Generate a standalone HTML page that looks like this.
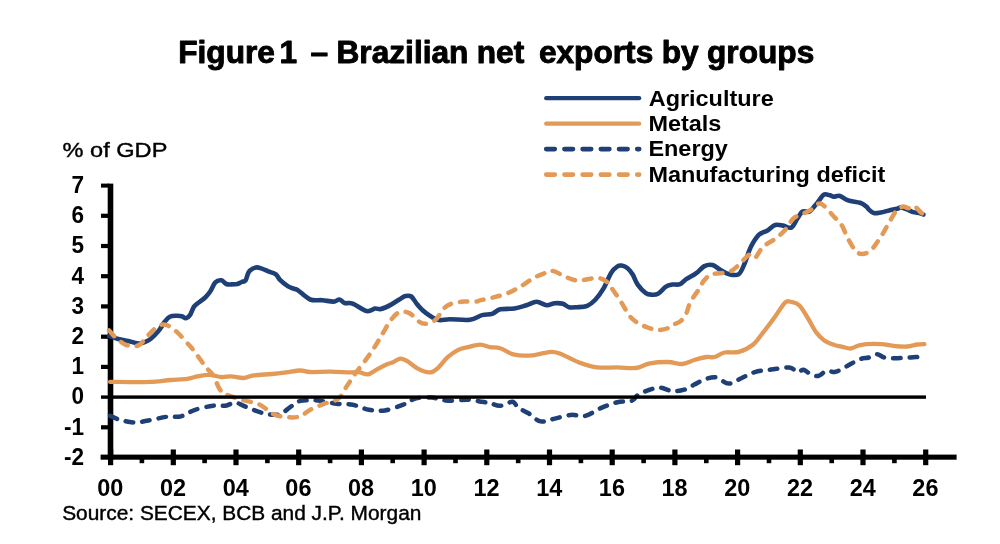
<!DOCTYPE html>
<html><head><meta charset="utf-8"><title>Figure 1</title>
<style>html,body{margin:0;padding:0;background:#fff}body{width:1000px;height:544px;position:relative;overflow:hidden}</style>
</head><body>
<svg width="1000" height="544" viewBox="0 0 1000 544" style="position:absolute;left:0;top:0">
<g fill="#000">
<rect x="107.7" y="183.6" width="5.6" height="276"/>
<rect x="100.6" y="454.6" width="856" height="5.1"/>
<rect x="101" y="425.2" width="8" height="4.2"/>
<rect x="101" y="364.8" width="8" height="4.2"/>
<rect x="101" y="334.6" width="8" height="4.2"/>
<rect x="101" y="304.3" width="8" height="4.2"/>
<rect x="101" y="274.1" width="8" height="4.2"/>
<rect x="101" y="243.9" width="8" height="4.2"/>
<rect x="101" y="213.7" width="8" height="4.2"/>
<rect x="101" y="183.6" width="8" height="4"/>
<rect x="108.0" y="449.5" width="5.2" height="15.7"/>
<rect x="139.6" y="457" width="4.6" height="6.2"/>
<rect x="170.7" y="449.5" width="5.2" height="15.7"/>
<rect x="202.3" y="457" width="4.6" height="6.2"/>
<rect x="233.4" y="449.5" width="5.2" height="15.7"/>
<rect x="265.1" y="457" width="4.6" height="6.2"/>
<rect x="296.1" y="449.5" width="5.2" height="15.7"/>
<rect x="327.8" y="457" width="4.6" height="6.2"/>
<rect x="358.8" y="449.5" width="5.2" height="15.7"/>
<rect x="390.4" y="457" width="4.6" height="6.2"/>
<rect x="421.5" y="449.5" width="5.2" height="15.7"/>
<rect x="453.2" y="457" width="4.6" height="6.2"/>
<rect x="484.2" y="449.5" width="5.2" height="15.7"/>
<rect x="515.9" y="457" width="4.6" height="6.2"/>
<rect x="546.9" y="449.5" width="5.2" height="15.7"/>
<rect x="578.6" y="457" width="4.6" height="6.2"/>
<rect x="609.6" y="449.5" width="5.2" height="15.7"/>
<rect x="641.3" y="457" width="4.6" height="6.2"/>
<rect x="672.3" y="449.5" width="5.2" height="15.7"/>
<rect x="704.0" y="457" width="4.6" height="6.2"/>
<rect x="735.0" y="449.5" width="5.2" height="15.7"/>
<rect x="766.7" y="457" width="4.6" height="6.2"/>
<rect x="797.7" y="449.5" width="5.2" height="15.7"/>
<rect x="829.4" y="457" width="4.6" height="6.2"/>
<rect x="860.4" y="449.5" width="5.2" height="15.7"/>
<rect x="892.1" y="457" width="4.6" height="6.2"/>
<rect x="923.1" y="449.5" width="5.2" height="15.7"/>
</g>
<g fill="none" stroke-linejoin="round" stroke-linecap="round">
<path d="M109.1,335.9 C110.6,336.4 115.0,338.1 118.2,339.0 C121.4,339.9 125.1,340.3 128.3,341.0 C131.5,341.7 134.9,343.1 137.4,343.4 C139.9,343.7 141.3,343.3 143.5,342.6 C145.7,341.9 148.1,340.9 150.6,339.0 C153.1,337.1 156.2,333.8 158.6,330.9 C160.9,328.0 162.8,324.2 164.7,321.8 C166.6,319.4 167.8,317.7 169.8,316.7 C171.8,315.7 174.8,315.8 176.8,315.7 C178.8,315.6 180.4,315.9 181.9,316.3 C183.4,316.7 184.7,318.5 186.0,318.3 C187.3,318.1 188.7,317.1 190.0,315.1 C191.3,313.2 192.5,308.8 194.0,306.6 C195.5,304.5 197.2,303.7 199.1,302.2 C201.0,300.7 203.3,299.3 205.2,297.5 C207.0,295.7 208.5,294.0 210.2,291.5 C211.9,289.0 213.5,284.3 215.3,282.4 C217.2,280.5 219.5,280.0 221.3,280.3 C223.2,280.6 224.7,283.3 226.4,284.0 C228.1,284.7 229.6,284.4 231.4,284.4 C233.2,284.4 235.8,284.4 237.5,284.0 C239.2,283.6 240.2,282.6 241.6,282.0 C242.9,281.4 244.4,281.9 245.6,280.3 C246.8,278.7 247.4,274.1 248.6,272.2 C249.8,270.2 251.3,269.4 252.7,268.6 C254.0,267.8 255.2,267.4 256.7,267.4 C258.2,267.4 259.9,268.0 261.8,268.6 C263.7,269.2 265.5,270.2 267.8,271.2 C270.1,272.1 273.9,272.9 275.9,274.3 C277.9,275.8 278.0,277.9 280.0,279.9 C282.0,281.9 285.8,284.9 288.1,286.4 C290.5,287.9 292.4,288.1 294.1,288.8 C295.8,289.5 295.4,288.6 298.1,290.4 C300.8,292.2 306.1,297.9 310.2,299.5 C314.2,301.1 318.5,299.8 322.4,300.2 C326.3,300.6 330.6,301.7 333.5,301.6 C336.4,301.5 337.6,299.3 339.5,299.5 C341.4,299.7 342.4,302.3 344.6,303.0 C346.8,303.7 349.0,302.2 352.7,303.6 C356.4,305.0 363.1,310.3 366.8,311.1 C370.5,311.9 372.5,309.0 374.9,308.6 C377.3,308.2 378.3,309.7 381.0,309.0 C383.7,308.3 387.9,306.3 391.1,304.6 C394.3,302.9 397.8,300.3 400.2,298.9 C402.6,297.5 403.4,296.5 405.3,296.1 C407.2,295.7 409.3,295.1 411.3,296.5 C413.3,297.9 415.0,301.9 417.4,304.6 C419.8,307.3 422.1,310.2 425.5,312.7 C428.9,315.2 433.6,318.7 437.6,319.8 C441.7,320.9 444.4,319.2 449.8,319.2 C455.2,319.2 464.6,320.5 470.0,319.8 C475.4,319.1 478.4,316.1 482.1,315.1 C485.8,314.1 489.1,314.9 492.1,313.9 C495.1,312.9 496.5,310.2 500.2,309.3 C503.9,308.4 510.0,309.2 514.4,308.5 C518.8,307.8 522.8,306.3 526.5,305.2 C530.2,304.1 533.2,301.8 536.6,301.8 C540.0,301.8 543.7,305.0 546.7,305.2 C549.7,305.4 552.1,303.4 554.8,303.2 C557.5,303.0 560.5,303.1 562.9,303.8 C565.3,304.5 566.6,306.6 569.0,307.2 C571.4,307.8 574.1,307.4 577.1,307.2 C580.1,307.0 584.2,307.0 587.2,305.8 C590.2,304.6 592.6,302.7 595.3,299.8 C598.0,296.9 600.7,293.2 603.4,288.6 C606.1,284.1 609.0,276.2 611.4,272.5 C613.8,268.8 615.8,267.5 617.5,266.4 C619.2,265.2 619.9,265.3 621.6,265.6 C623.3,265.9 625.8,266.7 627.6,268.2 C629.5,269.7 631.0,271.8 632.7,274.5 C634.4,277.2 635.5,281.5 637.7,284.6 C639.9,287.7 643.4,291.4 645.8,293.1 C648.2,294.8 649.9,294.6 651.9,294.7 C653.9,294.8 655.6,295.0 658.0,293.7 C660.4,292.4 663.6,288.1 666.0,286.6 C668.4,285.1 669.8,285.0 672.1,284.6 C674.4,284.2 677.6,285.1 680.0,284.2 C682.4,283.3 683.5,281.0 686.2,279.2 C688.9,277.4 693.3,275.3 696.3,273.1 C699.3,270.9 701.7,267.5 704.4,266.1 C707.1,264.8 709.8,264.3 712.5,265.0 C715.2,265.7 717.9,268.6 720.6,270.1 C723.3,271.6 725.6,273.4 728.6,274.1 C731.6,274.8 736.1,276.0 738.8,274.1 C741.5,272.2 742.8,267.6 744.8,263.0 C746.8,258.4 748.5,251.5 750.9,246.8 C753.3,242.1 756.3,237.4 759.0,234.7 C761.7,232.0 764.4,232.3 767.1,230.7 C769.8,229.1 772.5,225.8 775.2,225.0 C777.9,224.2 780.5,225.2 783.2,225.6 C785.9,226.0 788.9,228.8 791.3,227.6 C793.7,226.4 795.5,221.2 797.4,218.5 C799.3,215.8 800.5,212.7 802.5,211.5 C804.5,210.3 807.0,213.0 809.5,211.5 C812.0,210.0 815.2,205.2 817.6,202.4 C820.0,199.6 821.7,195.9 823.7,194.7 C825.7,193.5 828.1,195.0 829.8,195.3 C831.5,195.6 832.1,196.6 833.8,196.7 C835.5,196.8 837.5,195.3 839.9,195.9 C842.3,196.5 844.6,199.2 848.0,200.3 C851.4,201.5 857.1,201.8 860.1,202.8 C863.1,203.8 864.8,205.3 866.2,206.4 C867.7,207.5 867.5,208.3 868.8,209.4 C870.1,210.5 871.8,212.6 873.8,213.1 C875.8,213.6 878.4,212.9 880.9,212.5 C883.4,212.1 886.3,211.0 889.0,210.4 C891.7,209.8 895.1,209.3 897.1,208.8 C899.1,208.3 899.4,207.3 901.1,207.4 C902.8,207.5 905.2,208.6 907.2,209.4 C909.2,210.2 911.2,211.5 913.2,212.1 C915.2,212.7 917.6,212.5 919.3,212.9 C921.0,213.3 922.7,214.2 923.4,214.5" stroke="#1f3f77" stroke-width="4.6"/>
<path d="M110.1,381.9 C113.5,381.9 123.6,382.1 130.3,382.1 C137.1,382.1 143.8,382.2 150.6,381.9 C157.3,381.5 164.7,380.5 170.8,380.0 C176.9,379.5 182.6,379.4 187.0,378.8 C191.4,378.2 193.4,377.1 197.1,376.4 C200.8,375.7 205.2,374.7 209.2,374.8 C213.2,374.9 217.6,376.7 221.3,377.0 C225.0,377.3 227.7,376.2 231.4,376.4 C235.1,376.6 239.9,378.2 243.6,378.0 C247.3,377.8 249.0,376.1 253.7,375.4 C258.4,374.7 266.5,374.5 271.9,374.0 C277.3,373.5 281.3,373.0 286.0,372.4 C290.7,371.8 296.1,370.6 300.1,370.5 C304.1,370.4 305.1,371.8 310.2,372.0 C315.2,372.2 323.6,371.6 330.4,371.7 C337.1,371.8 346.0,372.3 350.7,372.4 C355.4,372.4 355.9,371.7 358.8,372.0 C361.7,372.3 364.9,374.8 367.9,374.4 C370.9,373.9 373.8,371.0 377.0,369.3 C380.2,367.6 384.4,365.5 387.1,364.3 C389.8,363.1 390.9,363.1 393.1,362.2 C395.3,361.2 397.8,358.8 400.2,358.6 C402.6,358.4 404.4,359.6 407.3,361.2 C410.2,362.8 413.7,366.4 417.4,368.3 C421.1,370.2 426.1,372.4 429.5,372.4 C432.9,372.4 434.6,370.8 437.6,368.3 C440.6,365.8 444.3,360.2 447.7,357.2 C451.1,354.2 454.4,351.8 457.8,350.1 C461.2,348.4 464.3,348.0 468.0,347.1 C471.7,346.2 476.4,344.6 480.1,344.6 C483.8,344.6 486.8,346.6 490.1,347.2 C493.5,347.8 496.1,346.9 500.2,348.2 C504.2,349.4 509.0,353.5 514.4,354.7 C519.8,355.9 526.5,355.8 532.6,355.3 C538.7,354.8 546.1,352.0 550.8,351.8 C555.5,351.6 556.2,352.1 560.9,353.9 C565.6,355.7 573.0,360.1 579.1,362.4 C585.2,364.6 590.9,366.6 597.3,367.4 C603.7,368.2 611.1,367.3 617.5,367.4 C623.9,367.5 630.3,368.7 635.7,368.0 C641.1,367.3 644.5,364.4 649.9,363.4 C655.3,362.4 662.7,361.9 668.1,362.0 C673.5,362.1 677.7,364.3 682.1,364.0 C686.5,363.7 690.2,361.2 694.3,360.0 C698.3,358.8 703.0,357.5 706.4,357.0 C709.8,356.5 711.5,357.8 714.5,357.0 C717.5,356.2 720.6,353.4 724.6,352.5 C728.6,351.6 734.1,353.2 738.8,351.9 C743.5,350.6 748.9,348.0 752.9,344.8 C756.9,341.6 759.3,337.4 763.0,332.7 C766.7,328.0 771.5,321.6 775.2,316.5 C778.9,311.4 782.6,304.8 785.3,302.4 C788.0,300.0 788.9,301.5 791.3,302.0 C793.6,302.5 796.6,302.6 799.4,305.4 C802.2,308.1 805.3,314.0 808.1,318.5 C810.9,323.0 813.5,328.8 816.2,332.4 C818.9,336.0 821.3,338.3 824.3,340.4 C827.3,342.5 831.4,343.8 834.4,344.9 C837.4,346.0 839.8,346.3 842.5,346.9 C845.2,347.5 847.9,348.7 850.6,348.5 C853.3,348.3 855.9,346.2 858.6,345.5 C861.3,344.8 863.0,344.3 866.7,344.1 C870.4,343.9 876.2,343.8 880.9,344.1 C885.6,344.4 890.6,345.7 895.0,346.1 C899.4,346.5 903.5,346.8 907.2,346.5 C910.9,346.2 914.4,344.9 917.3,344.5 C920.2,344.1 923.2,344.2 924.4,344.1" stroke="#e39a57" stroke-width="4.3"/>
<path d="M110.1,415.8 C111.8,416.5 116.2,418.8 120.2,419.9 C124.2,421.0 129.7,422.4 134.4,422.5 C139.1,422.6 143.1,421.4 148.5,420.5 C153.9,419.6 161.3,417.5 166.7,416.8 C172.1,416.1 176.2,417.6 180.9,416.4 C185.6,415.2 189.6,411.6 195.0,409.8 C200.4,408.0 208.1,406.4 213.2,405.7 C218.3,405.0 221.7,406.2 225.4,405.7 C229.1,405.2 232.1,402.5 235.5,402.7 C238.9,402.9 241.2,405.0 245.6,406.7 C250.0,408.4 257.1,411.4 261.8,412.8 C266.5,414.2 270.5,414.7 273.9,414.8 C277.3,414.9 279.0,414.7 282.0,413.2 C285.0,411.7 289.1,407.8 292.1,405.7 C295.1,403.6 297.1,401.8 300.1,400.9 C303.1,400.0 306.8,400.3 310.2,400.3 C313.6,400.3 315.9,400.1 320.3,400.7 C324.7,401.3 331.1,403.0 336.5,403.7 C341.9,404.4 347.3,403.7 352.7,404.7 C358.1,405.7 363.5,408.9 368.9,409.8 C374.3,410.8 379.3,411.2 385.0,410.4 C390.7,409.5 398.1,406.7 403.2,404.7 C408.3,402.7 410.7,399.8 415.4,398.6 C420.1,397.4 426.2,397.2 431.6,397.6 C437.0,398.0 441.6,400.4 447.7,400.7 C453.8,401.0 462.3,399.5 468.0,399.7 C473.7,399.9 478.4,401.2 482.1,401.8 C485.8,402.4 487.1,402.5 490.1,403.2 C493.1,403.9 496.5,406.0 500.2,405.8 C503.9,405.6 509.4,401.5 512.4,401.8 C515.4,402.1 515.7,406.0 518.4,407.9 C521.1,409.8 524.8,411.1 528.5,413.3 C532.2,415.6 536.3,420.5 540.7,421.4 C545.1,422.3 549.8,419.7 554.8,418.6 C559.8,417.5 565.9,415.3 571.0,414.9 C576.1,414.4 580.2,417.1 585.2,415.9 C590.2,414.7 595.9,410.2 601.3,407.9 C606.7,405.6 612.4,403.4 617.5,402.2 C622.6,401.0 628.3,402.0 631.7,400.8 C635.1,399.6 635.0,396.9 637.7,395.1 C640.4,393.4 644.1,391.6 647.8,390.3 C651.5,389.1 656.0,387.5 660.0,387.6 C664.0,387.7 668.1,390.8 672.1,391.1 C676.1,391.5 680.5,390.8 684.2,389.7 C687.9,388.6 690.9,386.3 694.3,384.6 C697.7,382.9 700.7,380.7 704.4,379.5 C708.1,378.3 712.5,376.8 716.5,377.5 C720.5,378.2 724.6,383.4 728.6,383.6 C732.6,383.8 736.4,380.4 740.8,378.5 C745.2,376.6 749.8,373.6 754.9,372.1 C760.0,370.6 765.4,370.4 771.1,369.6 C776.8,368.9 784.9,367.2 789.3,367.6 C793.7,368.0 795.0,371.6 797.4,372.0 C799.8,372.4 801.4,369.5 803.5,369.8 C805.6,370.1 807.6,372.8 810.1,373.8 C812.6,374.8 815.5,376.5 818.2,376.0 C820.9,375.5 823.6,371.7 826.3,371.0 C829.0,370.3 832.0,372.2 834.4,372.0 C836.8,371.8 837.7,371.2 840.4,369.9 C843.1,368.6 847.2,365.8 850.6,364.0 C854.0,362.2 857.7,360.1 860.7,359.0 C863.7,357.9 866.1,358.3 868.8,357.5 C871.5,356.7 874.1,354.2 876.8,354.2 C879.5,354.2 881.5,356.9 884.9,357.6 C888.3,358.3 893.0,358.2 897.1,358.2 C901.2,358.2 905.8,357.8 909.2,357.6 C912.6,357.4 915.4,356.6 917.3,357.0 C919.1,357.4 919.8,359.2 920.3,359.7" stroke="#1f3f77" stroke-width="4.5" stroke-dasharray="7.6 9"/>
<path d="M109.1,330.5 C110.3,331.8 113.3,335.6 116.2,338.0 C119.1,340.4 122.6,343.8 126.3,345.0 C130.0,346.2 134.7,347.1 138.4,345.4 C142.1,343.7 145.1,338.2 148.5,334.9 C151.9,331.6 155.6,327.4 158.6,325.8 C161.6,324.2 163.7,324.2 166.7,325.2 C169.7,326.2 173.1,328.6 176.8,331.9 C180.5,335.2 186.0,341.6 189.0,345.0 C192.0,348.4 192.3,348.6 195.0,352.1 C197.7,355.7 202.2,362.4 205.2,366.3 C208.2,370.2 210.8,371.7 213.2,375.4 C215.5,379.1 217.3,385.4 219.3,388.5 C221.3,391.6 221.7,392.3 225.4,394.2 C229.1,396.1 235.9,397.9 241.6,399.7 C247.3,401.4 254.4,402.2 259.8,404.7 C265.2,407.1 269.2,412.3 273.9,414.4 C278.6,416.5 283.7,416.9 288.1,417.2 C292.5,417.5 296.4,417.6 300.1,416.4 C303.8,415.2 306.1,411.9 310.2,409.8 C314.2,407.7 319.7,405.6 324.4,403.7 C329.1,401.8 334.8,401.5 338.5,398.6 C342.2,395.7 343.9,390.5 346.6,386.5 C349.3,382.5 351.7,378.6 354.7,374.4 C357.7,370.2 361.4,365.8 364.8,361.2 C368.2,356.6 371.9,351.3 374.9,346.6 C377.9,341.9 380.3,337.4 383.0,332.9 C385.7,328.4 388.4,323.2 391.1,319.8 C393.8,316.4 396.2,313.4 399.2,312.3 C402.2,311.2 405.9,311.5 409.3,313.1 C412.7,314.7 416.7,320.0 419.4,321.8 C422.1,323.6 422.8,324.1 425.5,323.8 C428.2,323.5 432.6,322.3 435.6,319.8 C438.6,317.3 441.0,311.3 443.7,308.6 C446.4,305.9 448.4,304.8 451.8,303.6 C455.2,302.4 459.9,301.9 463.9,301.6 C467.9,301.3 473.3,301.8 476.0,301.6 C478.7,301.4 477.3,301.0 480.0,300.4 C482.7,299.8 487.7,298.8 492.1,297.7 C496.5,296.6 501.6,295.5 506.3,293.7 C511.0,291.9 515.7,289.3 520.4,286.6 C525.1,283.9 530.2,279.9 534.6,277.5 C539.0,275.1 543.5,273.6 546.7,272.5 C549.9,271.4 550.8,270.4 553.8,271.1 C556.8,271.8 561.0,274.9 564.9,276.5 C568.8,278.1 573.0,280.2 577.1,280.6 C581.2,281.0 585.5,279.3 589.2,278.9 C592.9,278.5 596.3,277.6 599.3,278.1 C602.3,278.7 605.0,280.1 607.4,282.2 C609.8,284.3 611.1,287.3 613.5,290.7 C615.9,294.1 618.9,298.6 621.6,302.8 C624.3,307.0 626.9,312.5 629.6,315.9 C632.3,319.3 634.7,321.1 637.7,323.0 C640.7,324.9 644.4,326.3 647.8,327.5 C651.2,328.7 654.6,330.0 658.0,330.1 C661.4,330.2 665.7,329.0 668.0,328.1 C670.3,327.2 670.0,326.1 672.0,325.0 C674.0,323.9 677.7,323.5 680.1,321.6 C682.5,319.7 684.5,316.7 686.2,313.5 C687.9,310.3 688.2,306.3 690.2,302.4 C692.2,298.5 695.9,293.9 698.3,290.2 C700.7,286.5 702.0,282.8 704.4,280.1 C706.8,277.4 708.5,275.4 712.5,274.1 C716.5,272.8 724.2,273.6 728.6,272.1 C733.0,270.6 735.4,267.9 738.8,265.0 C742.2,262.1 746.2,256.1 748.9,254.9 C751.6,253.7 752.5,259.4 754.9,258.0 C757.2,256.6 759.6,250.0 763.0,246.8 C766.4,243.6 771.5,241.7 775.2,238.8 C778.9,236.0 782.3,233.1 785.3,229.7 C788.3,226.3 790.4,221.2 793.4,218.5 C796.4,215.8 800.5,215.0 803.5,213.5 C806.5,212.0 808.9,211.1 811.6,209.4 C814.3,207.7 817.1,203.7 819.5,203.4 C821.9,203.1 823.3,205.2 825.7,207.4 C828.1,209.6 831.1,213.5 833.8,216.5 C836.5,219.5 839.5,221.9 841.9,225.6 C844.3,229.3 845.8,234.8 848.0,238.8 C850.2,242.9 852.9,247.4 855.0,249.9 C857.1,252.4 858.5,253.5 860.6,253.9 C862.7,254.3 865.4,253.6 867.5,252.6 C869.6,251.6 871.2,249.9 873.0,248.0 C874.8,246.1 876.5,243.2 878.0,241.0 C879.5,238.8 880.7,237.2 882.0,235.0 C883.3,232.8 884.7,230.3 886.0,228.0 C887.3,225.7 888.7,223.3 890.0,221.0 C891.3,218.7 892.8,215.9 894.0,214.0 C895.2,212.1 896.0,210.6 897.5,209.3 C899.0,208.1 901.1,206.7 903.0,206.5 C904.9,206.3 907.2,208.3 909.0,208.2 C910.8,208.1 912.0,205.3 914.0,206.0 C916.0,206.7 919.3,211.0 921.0,212.5 C922.7,214.0 923.7,214.6 924.2,215.0" stroke="#e39a57" stroke-width="4.5" stroke-dasharray="7.6 9"/>
<rect x="101" y="395.4" width="825" height="3.4" fill="#000" stroke="none"/>
<path d="M546.2,98.2 L639.2,98.2" stroke="#1f3f77" stroke-width="4.2"/>
<path d="M546.2,123.7 L639.2,123.7" stroke="#e39a57" stroke-width="4.2"/>
<path d="M546.2,149.1 L639.2,149.1" stroke="#1f3f77" stroke-width="4.6" stroke-dasharray="8.6 9.6"/>
<path d="M546.2,174.6 L639.2,174.6" stroke="#e39a57" stroke-width="4.6" stroke-dasharray="8.6 9.6"/>
</g>
<g style="font-family:&quot;Liberation Sans&quot;,sans-serif" fill="#000">
<text transform="translate(178.20,63) scale(1.0388,1)" font-size="30.5" font-weight="bold" stroke="#000" stroke-width="0.9" stroke-linejoin="round">Figure<tspan dx="-4.09"> 1</tspan><tspan dx="4.38"> –</tspan><tspan dx="-0.39"> Brazilian</tspan><tspan dx="-0.53"> net</tspan><tspan dx="5.68"> exports</tspan><tspan dx="-0.29"> by</tspan><tspan dx="-0.53"> groups</tspan></text>
<text transform="translate(62.60,157.00) scale(1.1500,1)" font-size="20.5" stroke="#000" stroke-width="0.4">% of GDP</text>
<text transform="translate(62.20,520.00) scale(1.0710,1)" font-size="19.5" stroke="#000" stroke-width="0.4">Source: SECEX, BCB and J.P. Morgan</text>
<text transform="translate(648.70,105.50) scale(1.0380,1)" font-size="22.6" font-weight="bold">Agriculture</text>
<text transform="translate(648.40,130.97) scale(1.0380,1)" font-size="22.6" font-weight="bold">Metals</text>
<text transform="translate(648.40,156.44) scale(1.0380,1)" font-size="22.6" font-weight="bold">Energy</text>
<text transform="translate(648.40,181.91) scale(1.0380,1)" font-size="22.6" font-weight="bold">Manufacturing deficit</text>
<text transform="translate(84.00,464.84) scale(0.9900,1.05)" font-size="22.8" font-weight="bold" text-anchor="end">-2</text>
<text transform="translate(84.00,434.62) scale(0.9900,1.05)" font-size="22.8" font-weight="bold" text-anchor="end">-1</text>
<text transform="translate(84.00,404.40) scale(0.9900,1.05)" font-size="22.8" font-weight="bold" text-anchor="end">0</text>
<text transform="translate(84.00,374.18) scale(0.9900,1.05)" font-size="22.8" font-weight="bold" text-anchor="end">1</text>
<text transform="translate(84.00,343.96) scale(0.9900,1.05)" font-size="22.8" font-weight="bold" text-anchor="end">2</text>
<text transform="translate(84.00,313.74) scale(0.9900,1.05)" font-size="22.8" font-weight="bold" text-anchor="end">3</text>
<text transform="translate(84.00,283.52) scale(0.9900,1.05)" font-size="22.8" font-weight="bold" text-anchor="end">4</text>
<text transform="translate(84.00,253.30) scale(0.9900,1.05)" font-size="22.8" font-weight="bold" text-anchor="end">5</text>
<text transform="translate(84.00,223.08) scale(0.9900,1.05)" font-size="22.8" font-weight="bold" text-anchor="end">6</text>
<text transform="translate(84.00,192.86) scale(0.9900,1.05)" font-size="22.8" font-weight="bold" text-anchor="end">7</text>
<text transform="translate(110.30,496.00) scale(1.0200,1)" font-size="23" font-weight="bold" text-anchor="middle">00</text>
<text transform="translate(173.00,496.00) scale(1.0200,1)" font-size="23" font-weight="bold" text-anchor="middle">02</text>
<text transform="translate(235.70,496.00) scale(1.0200,1)" font-size="23" font-weight="bold" text-anchor="middle">04</text>
<text transform="translate(298.40,496.00) scale(1.0200,1)" font-size="23" font-weight="bold" text-anchor="middle">06</text>
<text transform="translate(361.10,496.00) scale(1.0200,1)" font-size="23" font-weight="bold" text-anchor="middle">08</text>
<text transform="translate(423.80,496.00) scale(1.0200,1)" font-size="23" font-weight="bold" text-anchor="middle">10</text>
<text transform="translate(486.50,496.00) scale(1.0200,1)" font-size="23" font-weight="bold" text-anchor="middle">12</text>
<text transform="translate(549.20,496.00) scale(1.0200,1)" font-size="23" font-weight="bold" text-anchor="middle">14</text>
<text transform="translate(611.90,496.00) scale(1.0200,1)" font-size="23" font-weight="bold" text-anchor="middle">16</text>
<text transform="translate(674.60,496.00) scale(1.0200,1)" font-size="23" font-weight="bold" text-anchor="middle">18</text>
<text transform="translate(737.30,496.00) scale(1.0200,1)" font-size="23" font-weight="bold" text-anchor="middle">20</text>
<text transform="translate(800.00,496.00) scale(1.0200,1)" font-size="23" font-weight="bold" text-anchor="middle">22</text>
<text transform="translate(862.70,496.00) scale(1.0200,1)" font-size="23" font-weight="bold" text-anchor="middle">24</text>
<text transform="translate(925.40,496.00) scale(1.0200,1)" font-size="23" font-weight="bold" text-anchor="middle">26</text>
</g>
</svg>
</body></html>
